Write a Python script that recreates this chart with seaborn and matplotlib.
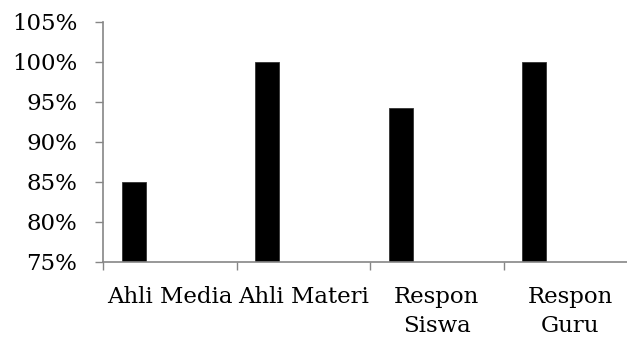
import numpy as np
import pandas as pd
import seaborn as sns
import matplotlib
matplotlib.use("Agg")
import matplotlib.pyplot as plt
from matplotlib.ticker import FuncFormatter, MultipleLocator

# Data
categories = ["Ahli Media", "Ahli Materi", "Respon\nSiswa", "Respon\nGuru"]
values = [85.0, 100.0, 94.2, 100.0]

sns.set_theme(style="white")
plt.rcParams["font.family"] = ["DejaVu Serif"]

DPI = 100
fig = plt.figure(figsize=(6.27, 3.38), dpi=DPI)
# axis runs past the right edge of the canvas
ax = fig.add_axes([103 / 627, 76 / 338, 534 / 627, 240 / 338])

# each bar sits in the left part of its category slot
bar_offset = -0.27
df = pd.DataFrame({
    "pos": np.arange(len(categories)) + bar_offset,
    "value": values,
})
sns.barplot(data=df, x="pos", y="value", native_scale=True, width=0.18,
            color="black", saturation=1, edgecolor="#333333", linewidth=0.6,
            ax=ax)

axis_gray = "#868686"
ax.set_xlim(-0.5, len(categories) - 0.5)
ax.set_ylim(75, 105)
ax.yaxis.set_major_locator(MultipleLocator(5))
ax.yaxis.set_major_formatter(FuncFormatter(lambda v, p: f"{v:.0f}%"))

# category labels centred in slots, tick marks on slot boundaries
ax.set_xticks(np.arange(len(categories)))
ax.set_xticklabels(categories, linespacing=1.45)
ax.set_xticks(np.arange(len(categories) + 1) - 0.5, minor=True)
ax.tick_params(axis="x", which="major", length=0, pad=17, labelsize=16.5,
               labelcolor="black")
ax.tick_params(axis="x", which="minor", length=5.5, width=1, color=axis_gray,
               direction="out", bottom=True)
ax.tick_params(axis="y", which="major", length=5.5, width=1, color=axis_gray,
               direction="out", left=True, pad=13, labelsize=16.5,
               labelcolor="black")

for side in ["top", "right"]:
    ax.spines[side].set_visible(False)
for side in ["left", "bottom"]:
    ax.spines[side].set_color(axis_gray)
    ax.spines[side].set_linewidth(1.2)

ax.set_xlabel("")
ax.set_ylabel("")
ax.grid(False)

fig.savefig("out.png", dpi=DPI)
